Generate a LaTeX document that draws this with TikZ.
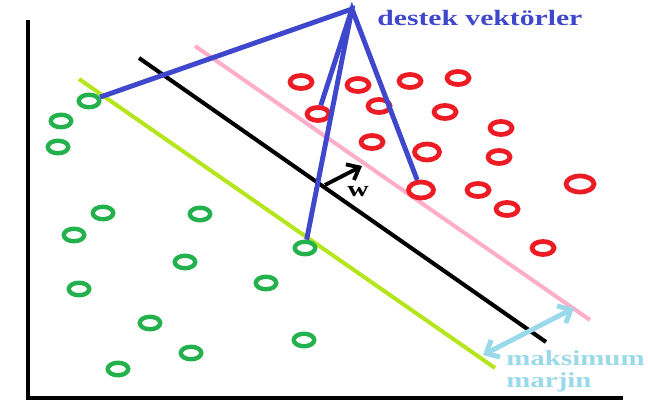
\documentclass[tikz,border=0pt]{standalone}
\usepackage{fontspec}
\setmainfont{Liberation Serif}
\newfontfamily\labelfont[FakeStretch=1.35]{Liberation Serif}
\usepackage{tikz}
\usetikzlibrary{shapes.geometric, arrows.meta}
\definecolor{paintGreen}{HTML}{22B14C}
\definecolor{paintRed}{HTML}{ED1C24}
\definecolor{paintLime}{HTML}{B5E61D}
\definecolor{paintPink}{HTML}{FFAEC9}
\definecolor{paintIndigo}{HTML}{3F48CC}
\definecolor{paintTurquoise}{HTML}{99D9EA}
\tikzset{
  greenring/.style={ellipse, draw=paintGreen, line width=2.5pt, inner sep=0pt,
    minimum width=0.41cm, minimum height=0.25cm},
  redring/.style={ellipse, draw=paintRed, line width=2.7pt, inner sep=0pt,
    minimum width=0.44cm, minimum height=0.26cm},
  redbig/.style={redring, minimum width=0.5cm, minimum height=0.32cm},
  plane/.style={line width=2.3pt},
  blueline/.style={draw=paintIndigo, line width=2.8pt},
  labeltext/.style={inner sep=0pt, font=\labelfont\bfseries\fontsize{12.5}{12.5}\selectfont}
}

\begin{document}
\begin{tikzpicture}[x=0.02cm, y=-0.02cm]
  \useasboundingbox (0,0) rectangle (648,401);
  % axes
  \draw[line width=2.6pt] (28,20) -- (28,398) -- (623,398);
  % hyperplanes
  \draw[plane, paintLime] (79,79) -- (495,368);
  \draw[plane, black] (139,58) -- (546,342);
  \draw[plane, paintPink] (195,46) -- (590,320);
  % points
  \foreach \x/\y [count=\i] in {89/101, 61/121, 58/147, 103/213, 200/214, 74/235, 305/248,
      185/262, 266/283, 79/289, 150/323, 304/340, 191/353, 118/369}
    \node[greenring] (g\i) at (\x,\y) {};
  \foreach \x/\y [count=\i] in {301/82, 358/85, 410/81, 458/78, 318/114, 379/106, 445/112,
      501/128, 372/142, 499/157, 478/190, 507/209, 543/248}
    \node[redring] (r\i) at (\x,\y) {};
  \node[redbig] (r14) at (427,152) {};
  \node[redbig] (r15) at (421,190) {};
  \node[redbig, minimum width=0.56cm] (r16) at (580,184) {};
  % support vectors
  \coordinate (apex) at (352,9);
  \draw[blueline] (g1) -- (apex) -- (g7);
  \draw[blueline] (r5) -- (apex) -- (r15);
  \node[labeltext, text=paintIndigo, anchor=base west] (sv) at (377,26) {destek vektörler};
  % normal vector
  \draw[line width=2.2pt, -{Straight Barb[length=6pt, width=10pt]}] (325,185) -- (362,166);
  \node[labeltext] (w) at (358,192) {w};
  % margin
  \draw[line width=2.8pt, paintTurquoise,
    {Straight Barb[length=6pt, width=11pt]}-{Straight Barb[length=6pt, width=11pt]}]
    (483,355) -- (574,308);
  \node[labeltext, text=paintTurquoise, anchor=base west, font=\labelfont\bfseries\fontsize{12.2}{12.2}\selectfont]
    (mm1) at (506,365) {maksimum};
  \node[labeltext, text=paintTurquoise, anchor=base west, font=\labelfont\bfseries\fontsize{12.2}{12.2}\selectfont]
    (mm2) at (506,387) {marjin};
\end{tikzpicture}
\end{document}
